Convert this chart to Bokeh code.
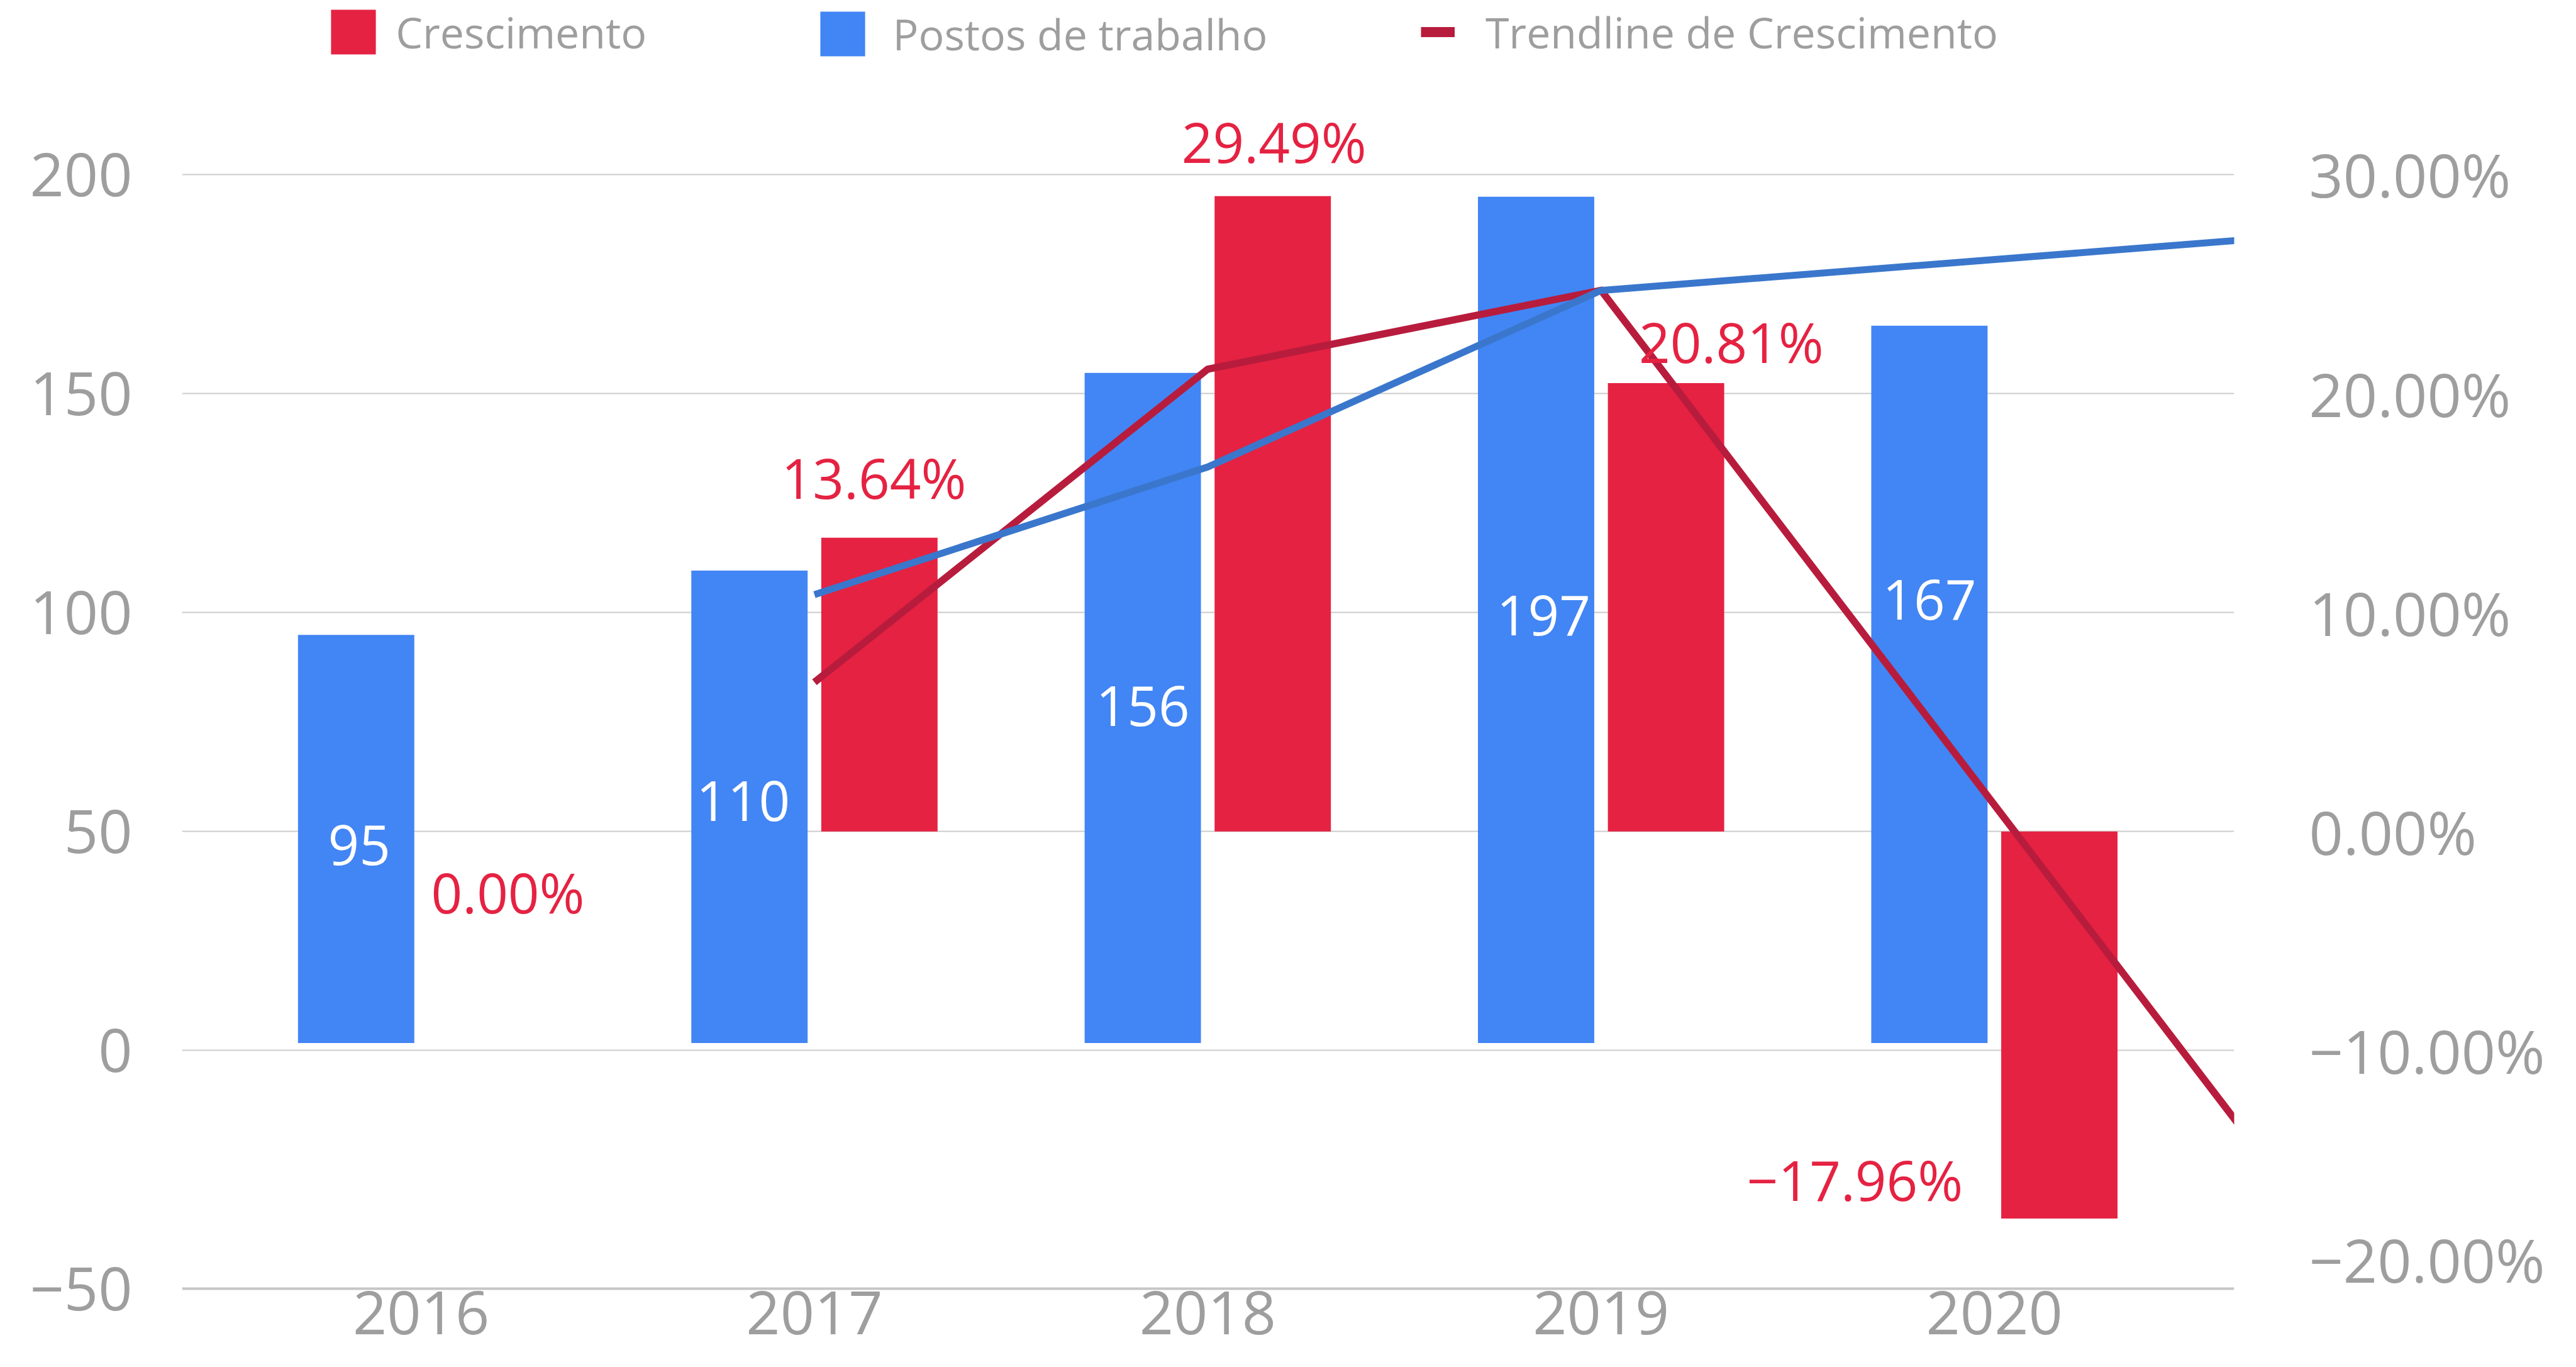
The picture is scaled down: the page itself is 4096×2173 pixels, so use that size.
import numpy as np
from bokeh.plotting import figure
from bokeh.models import Range1d, LinearAxis, FixedTicker, Legend, LegendItem, ColumnDataSource
from bokeh.transform import dodge
from bokeh.core.properties import value
from bokeh.embed import file_html
from bokeh.resources import INLINE

# ---------------- data ----------------
years = ["2016", "2017", "2018", "2019", "2020"]
postos = [95, 110, 156, 197, 167]
crescimento = [0.00, 13.64, 29.49, 20.81, -17.96]
postos_text = ["95", "110", "156", "197", "167"]
crescimento_text = ["0.00%", "13.64%", "29.49%", "20.81%", "−17.96%"]

# trendlines as drawn (points at 2017..2019, last point where they leave the chart)
trend_x = [1, 2, 3, 4.655]
trend_postos = [104.4, 134.1, 175.2, 187.1]
trend_crescimento = [6.93, 21.46, 25.12, -14.41]

left_ticks = [200, 150, 100, 50, 0, -54.4]
left_tick_text = ["200", "150", "100", "50", "0", "−50"]
right_ticks = [30, 20, 10, 0, -10, -19.54]
right_tick_text = ["30.00%", "20.00%", "10.00%", "0.00%", "−10.00%", "−20.00%"]
grid_ticks = [0, 50, 100, 150, 200]

# ---------------- styles ----------------
FONT = "Open Sans"
GRAY = "#9e9e9e"
BLUE = "#4285f4"
RED = "#e52242"
TREND_RED = "#b81c3d"
TREND_BLUE = "#3a77cc"
BAR_W = 0.2957
BAR_SHIFT = 0.1652
LABEL_GAP = 89
postos_label_dx = [5, -10, 0, 12, 0]
postos_label_dy = [10, -9, -3, -7, -134]
cres_label_dx = [34.6, -8.9, 2, 103.8, -325]
cres_label_dy = [6.9, -6.9, 2.5, 23.2, -150.7]

W, H = 4080, 2157
p = figure(width=W, height=H, output_backend="svg", toolbar_location=None, title=None,
           x_range=Range1d(-0.6078, 4.6097), y_range=Range1d(-70.03, 239.77),
           min_border_left=289, min_border_right=528, min_border_top=0, min_border_bottom=0)
p.extra_y_ranges = {
    "right": Range1d(-24.006, 37.954),
    "posts": Range1d(-73.13, 242.73),
    "growth": Range1d(-24.400, 38.580),
}
p.outline_line_color = None
p.background_fill_color = "white"
p.border_fill_color = "white"

def style_axis(ax, size="95px", standoff=10):
    ax.axis_line_color = None
    ax.major_tick_line_color = None
    ax.minor_tick_line_color = None
    ax.major_tick_in = 0
    ax.major_tick_out = 0
    ax.major_label_text_font = FONT
    ax.major_label_text_font_size = size
    ax.major_label_text_color = GRAY
    ax.major_label_standoff = standoff

xa = p.xaxis[0]
style_axis(xa, standoff=3)
xa.ticker = FixedTicker(ticks=list(range(len(years))))
xa.major_label_overrides = {i: y for i, y in enumerate(years)}
xa.fixed_location = left_ticks[-1]
xa.axis_line_color = "#c6c6c6"
xa.axis_line_width = 4

ya = p.yaxis[0]
style_axis(ya, standoff=79)
ya.ticker = FixedTicker(ticks=left_ticks)
ya.major_label_overrides = dict(zip(left_ticks, left_tick_text))

ra = LinearAxis(y_range_name="right")
style_axis(ra, standoff=119)
ra.ticker = FixedTicker(ticks=right_ticks)
ra.major_label_overrides = dict(zip(right_ticks, right_tick_text))
p.add_layout(ra, "right")

p.xgrid.visible = False
p.ygrid.ticker = FixedTicker(ticks=grid_ticks)
p.ygrid.grid_line_color = "#cccccc"
p.ygrid.grid_line_width = 2

src = ColumnDataSource(dict(
    x=np.arange(len(years)),
    postos=postos, cres=crescimento,
    ptxt=postos_text, ctxt=crescimento_text,
    pmid=[v / 2 for v in postos],
    pdx=postos_label_dx, pdy=postos_label_dy,
    cdx=cres_label_dx,
    cdy=[(-LABEL_GAP if v > 0 else LABEL_GAP) + d for v, d in zip(crescimento, cres_label_dy)],
))

r_red = p.vbar(x=dodge("x", BAR_SHIFT), top="cres", bottom=0, width=BAR_W, source=src,
               fill_color=RED, line_color=None, y_range_name="growth")
r_blue = p.vbar(x=dodge("x", -BAR_SHIFT), top="postos", bottom=0, width=BAR_W, source=src,
                fill_color=BLUE, line_color=None, y_range_name="posts")

r_tr = p.line(trend_x, trend_crescimento, y_range_name="growth", line_color=TREND_RED,
              line_width=11.5, line_join="miter")
r_tb = p.line(trend_x, trend_postos, y_range_name="posts", line_color=TREND_BLUE,
              line_width=11, line_join="miter")
r_leg_tr = p.line(trend_x, trend_crescimento, y_range_name="growth", line_color=TREND_RED,
                  line_width=15.8, visible=False)

p.text(x=dodge("x", -BAR_SHIFT), y="pmid", text="ptxt", source=src, y_range_name="posts",
       x_offset="pdx", y_offset="pdy", text_align="center", text_baseline="middle",
       text_font=value(FONT), text_font_size=value("87px"), text_color="white")
p.text(x=dodge("x", BAR_SHIFT), y="cres", text="ctxt", source=src, y_range_name="growth",
       x_offset="cdx", y_offset="cdy", text_align="center", text_baseline="middle",
       text_font=value(FONT), text_font_size=value("87px"), text_color=RED)

def make_legend(label, renderer, vx, vy, gw, gh, standoff):
    return Legend(items=[LegendItem(label=label, renderers=[renderer])],
                  location=(vx, vy), orientation="horizontal",
                  glyph_width=gw, glyph_height=gh, label_standoff=standoff,
                  padding=0, margin=0, spacing=0, label_height=gh,
                  border_line_color=None, background_fill_alpha=0,
                  label_text_font=FONT, label_text_font_size="68px",
                  label_text_color=GRAY)

p.add_layout(make_legend("Crescimento", r_red, 228.2, 2060.1, 89, 89, 23), "center")
p.add_layout(make_legend("Postos de trabalho", r_blue, 1005.6, 2057.1, 89, 89, 36), "center")
p.add_layout(make_legend("Trendline de Crescimento", r_leg_tr, 1969.9, 2060.1, 54, 89, 49), "center")

open("out.html", "w").write(file_html(p, INLINE))
